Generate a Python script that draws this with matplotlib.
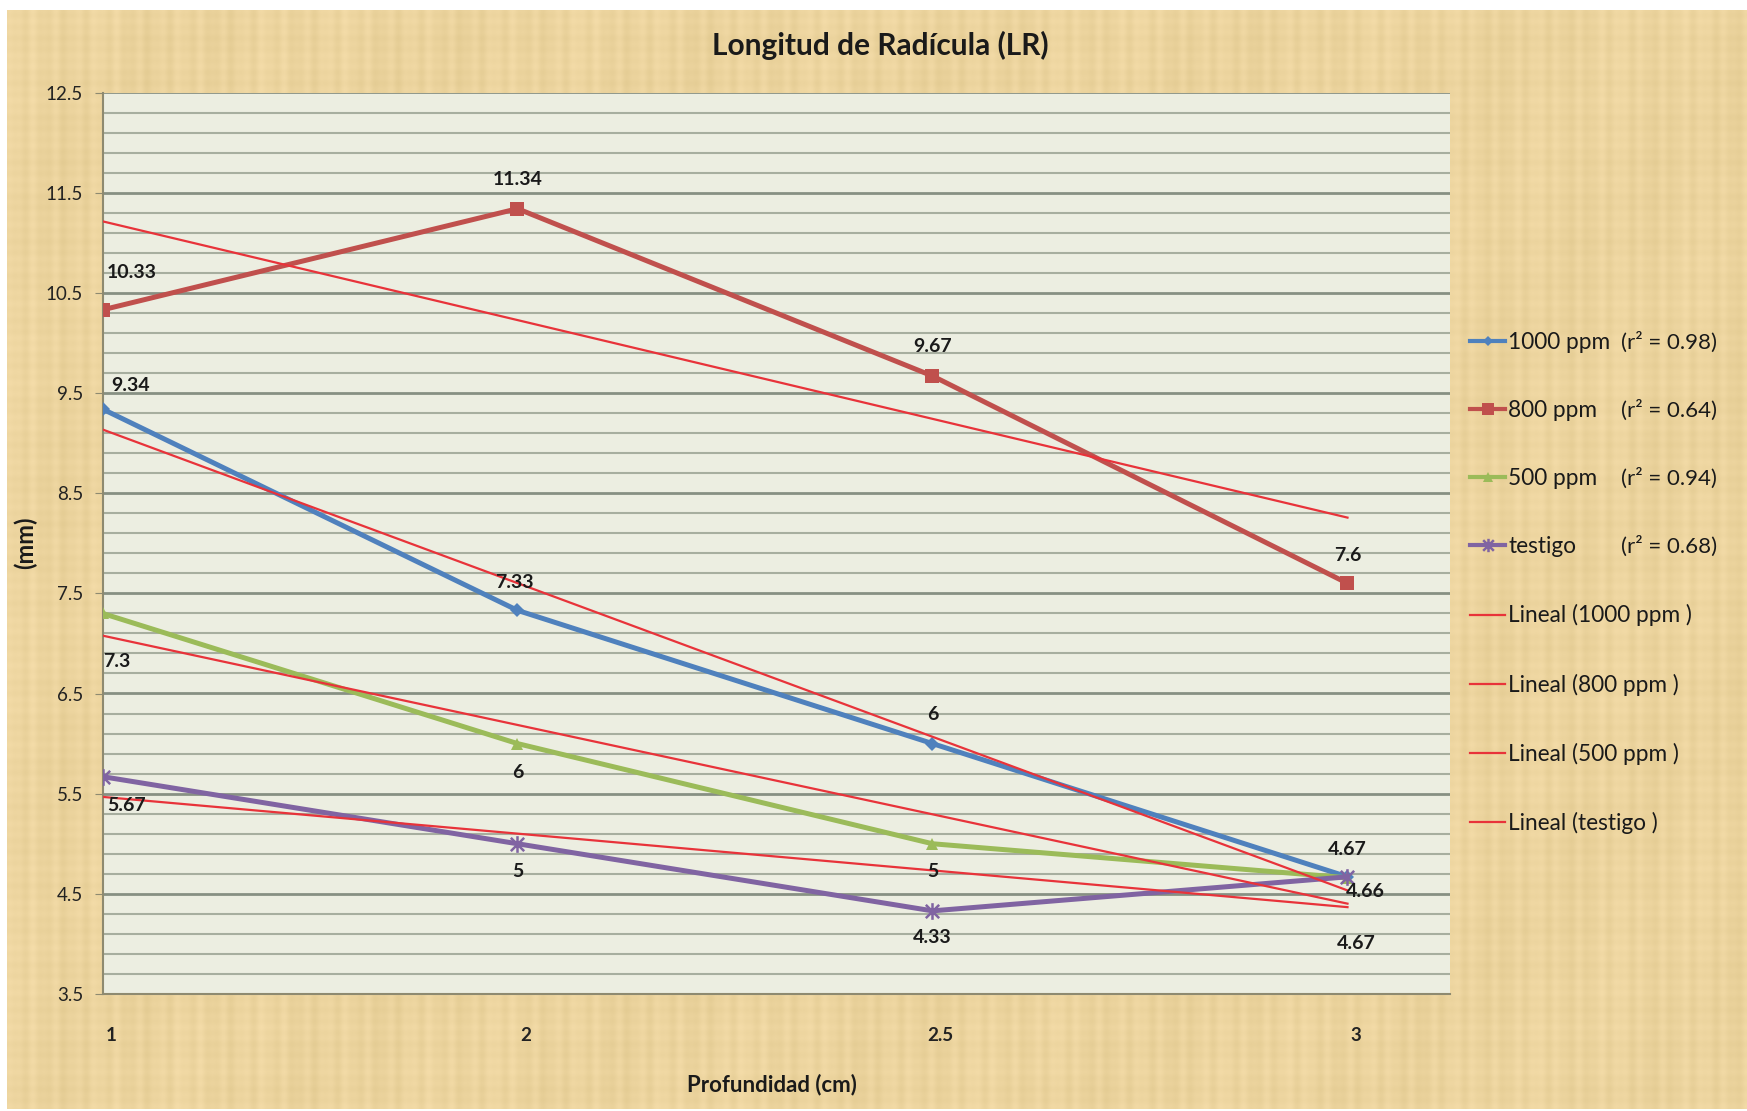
import numpy as np
import matplotlib
matplotlib.use("Agg")
import matplotlib.pyplot as plt
from matplotlib.path import Path
from matplotlib.lines import Line2D

# ---- data ----
depth_labels = ["1", "2", "2.5", "3"]
ppm_1000 = [9.34, 7.33, 6.0, 4.67]
ppm_800 = [10.33, 11.34, 9.67, 7.6]
ppm_500 = [7.3, 6.0, 5.0, 4.66]
testigo = [5.67, 5.0, 4.33, 4.67]
series_names = ["1000 ppm", "800 ppm", "500 ppm", "testigo"]
r2_values = ["0.98", "0.64", "0.94", "0.68"]
y_ticks = [3.5, 4.5, 5.5, 6.5, 7.5, 8.5, 9.5, 10.5, 11.5, 12.5]

FONT = "Lato"
W, H, DPI = 1747, 1111, 100
fig = plt.figure(figsize=(W / DPI, H / DPI), dpi=DPI, facecolor="white")

# parchment-like backdrop made of layered fibre stripes
bg = fig.add_axes([7 / W, 2 / H, 1 - 7 / W, 1 - 12 / H], zorder=-10)
xx = np.linspace(0, 1, 900)[None, :]
yy = np.linspace(0, 1, 600)[:, None]
fib = (0.30 * np.sin(xx * 523.0) + 0.22 * np.sin(xx * 911.0 + 1.3) + 0.15 * np.sin(xx * 137.0 + 0.4)
       + 0.15 * np.sin(yy * 610.0 + 2.1) + 0.10 * np.sin(yy * 171.0) + 0.10 * np.sin(xx * 41.0 + yy * 23.0))
fib = fib / np.abs(fib).max()
base = np.array([236, 212, 158]) / 255.0
tex = base[None, None, :] + 0.035 * fib[:, :, None] * np.array([1.0, 1.0, 1.3])[None, None, :]
bg.imshow(np.clip(tex, 0, 1), aspect="auto", extent=[0, 1, 0, 1], interpolation="bilinear")
bg.set_axis_off()

# ---- plot area ----
L, R, T, B = 102.5, 1450, 92.5, 994
ax = fig.add_axes([L / W, 1 - B / H, (R - L) / W, (B - T) / H])
ax.set_facecolor("#ECEEE1")
x = np.arange(len(depth_labels))
ax.set_xlim(0, 3.247)
ax.set_ylim(3.5, 12.5)

for v in np.arange(3.5, 12.51, 0.2):
    major = any(abs(v - t) < 1e-6 for t in y_ticks)
    ax.axhline(v, color="#879083" if major else "#A7AE9F", lw=2.0 if major else 1.5, zorder=1)

for s in ["top", "right"]:
    ax.spines[s].set_visible(False)
ax.spines["left"].set_color("#8E8A70")
ax.spines["bottom"].set_color("#8E8A70")
ax.spines["left"].set_linewidth(1.5)
ax.spines["bottom"].set_linewidth(1.5)

ax.set_yticks(y_ticks)
ax.set_yticklabels([f"{t:g}" for t in y_ticks], fontsize=13.5, family=FONT, color="#222222")
ax.tick_params(axis="y", length=6, color="#8E8A70", pad=8)
ax.set_xticks(x + 0.02)
ax.set_xticklabels(depth_labels, fontsize=13.5, family=FONT, fontweight="bold", color="#222222")
ax.tick_params(axis="x", length=0, pad=24)

# star marker: an X crossed by a vertical bar
star = Path([(-1, -1), (1, 1), (-1, 1), (1, -1), (0, -1.25), (0, 1.25)],
            [Path.MOVETO, Path.LINETO, Path.MOVETO, Path.LINETO, Path.MOVETO, Path.LINETO])

colors = ["#4F81BD", "#C0504D", "#9BBB59", "#8064A2"]
markers = ["D", "s", "^", star]
msizes = [7, 10.5, 9, 12]
all_series = [ppm_1000, ppm_800, ppm_500, testigo]
handles = []
for vals, c, m, ms, name in zip(all_series, colors, markers, msizes, series_names):
    mkw = dict(markeredgewidth=1.8, markerfacecolor="none") if m is star else dict(markeredgewidth=0)
    ax.plot(x, vals, color=c, lw=3.6, marker=m, markersize=ms, markeredgecolor=c,
            zorder=4, solid_capstyle="round", **mkw)
    handles.append(Line2D([], [], color=c, lw=3.0, marker=m, markersize=ms * 0.8,
                          markeredgecolor=c, **mkw))

# linear trend lines
trend_color = "#E8333A"
for vals in all_series:
    k, b0 = np.polyfit(x + 1, vals, 1)
    ax.plot(x, k * (x + 1) + b0, color=trend_color, lw=1.6, zorder=5)
    handles.append(Line2D([], [], color=trend_color, lw=1.6))

# data labels (offsets in points)
lbl_kw = dict(textcoords="offset points", fontsize=14, fontweight="bold",
              family=FONT, color="#1A1A1A", ha="center", va="center", zorder=6)
offsets = [
    [(20, 17), (-2, 20), (0, 21), (0, 20)],      # 1000 ppm
    [(21, 27), (0, 21), (0, 21), (0, 20)],       # 800 ppm
    [(10, -35), (0, -21), (0, -20), (13, -10)],  # 500 ppm
    [(17, -21), (0, -20), (0, -19), (6, -48)],   # testigo
]
for vals, offs in zip(all_series, offsets):
    for xi, v, o in zip(x, vals, offs):
        ax.annotate(f"{v:g}", (xi, v), xytext=o, **lbl_kw)

# titles
fig.text(880 / W, 1 - 45 / H, "Longitud de Radícula (LR)", ha="center", va="center",
         fontsize=21.5, fontweight="bold", family=FONT, color="#1A1A1A")
fig.text(772 / W, 1 - 1085 / H, "Profundidad (cm)", ha="center", va="center",
         fontsize=16, fontweight="bold", family=FONT, color="#1A1A1A")
fig.text(25 / W, 1 - 543 / H, "(mm)", ha="center", va="center", rotation=90,
         fontsize=17, fontweight="bold", family=FONT, color="#1A1A1A")

# legend
leg_labels = series_names + [f"Lineal ({n} )" for n in series_names]
leg = fig.legend(handles, leg_labels, loc="upper left", bbox_to_anchor=(1470 / W, 1 - 332 / H),
                 frameon=False, labelspacing=2.08, handlelength=1.55,
                 handletextpad=0.15, borderaxespad=0, borderpad=0,
                 prop={"family": FONT, "size": 16.3})
for t in leg.get_texts():
    t.set_color("#1A1A1A")

fig.canvas.draw()
inv = fig.transFigure.inverted()
for t, r2 in zip(leg.get_texts()[:4], r2_values):
    bb = t.get_window_extent()
    yc = inv.transform(((bb.x0 + bb.x1) / 2, (bb.y0 + bb.y1) / 2))[1]
    fig.text(1621 / W, yc, f"(r² = {r2})", ha="left", va="center", fontsize=16,
             family=FONT, color="#1A1A1A")

fig.savefig("out.png", dpi=DPI, facecolor="white")
